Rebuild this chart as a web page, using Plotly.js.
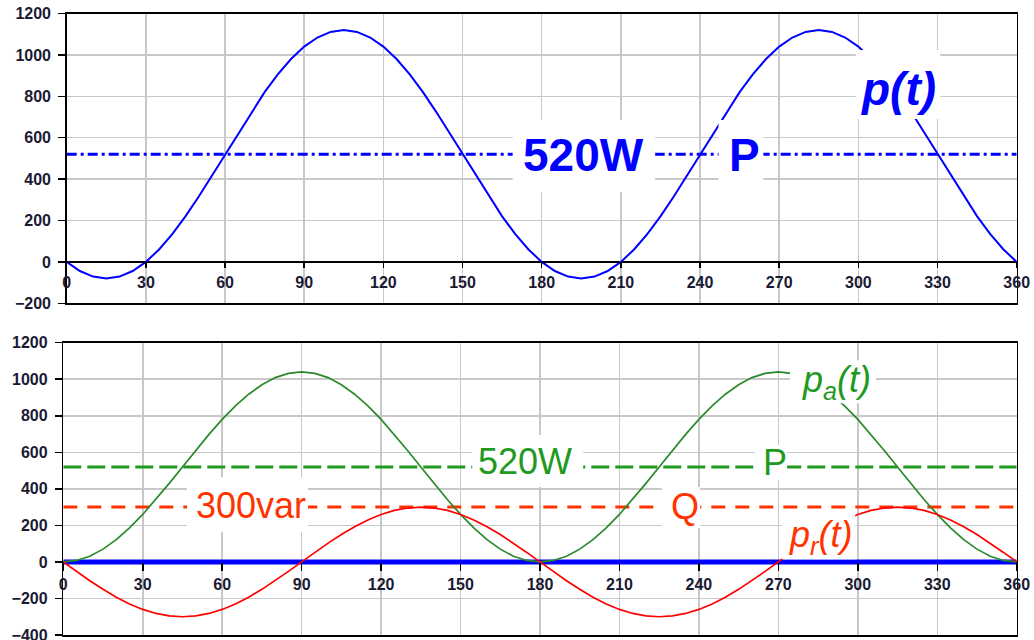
<!DOCTYPE html>
<html>
<head>
<meta charset="utf-8">
<script src="https://cdn.plot.ly/plotly-3.0.1.min.js"></script>
<style>html,body{margin:0;padding:0;background:#fff;}#chart{width:1034px;height:640px;}</style>
</head>
<body>
<div id="chart"></div>
<script>
// angle (degrees)
const angle = [0,5,10,15,20,25,30,35,40,45,50,55,60,65,70,75,80,85,90,95,100,105,110,115,120,125,130,135,140,145,150,155,160,165,170,175,180,
185,190,195,200,205,210,215,220,225,230,235,240,245,250,255,260,265,270,275,280,285,290,295,300,305,310,315,320,325,330,335,340,345,350,355,360];
// instantaneous power p(t)
const pt = [0,-44,-71,-80,-71,-44,0,60,134,220,315,416,520,624,725,820,906,980,1040,1084,1111,1120,1111,1084,1040,980,906,820,725,624,520,416,315,220,134,60,0,
-44,-71,-80,-71,-44,0,60,134,220,315,416,520,624,725,820,906,980,1040,1084,1111,1120,1111,1084,1040,980,906,820,725,624,520,416,315,220,134,60,0];
// active component pa(t)
const pa = [0,8,31,70,122,186,260,342,430,520,610,698,780,854,918,970,1009,1032,1040,1032,1009,970,918,854,780,698,610,520,430,342,260,186,122,70,31,8,0,
8,31,70,122,186,260,342,430,520,610,698,780,854,918,970,1009,1032,1040,1032,1009,970,918,854,780,698,610,520,430,342,260,186,122,70,31,8,0];
// reactive component pr(t)
const pr = [0,-52,-103,-150,-193,-230,-260,-282,-295,-300,-295,-282,-260,-230,-193,-150,-103,-52,0,52,103,150,193,230,260,282,295,300,295,282,260,230,193,150,103,52,0,
-52,-103,-150,-193,-230,-260,-282,-295,-300,-295,-282,-260,-230,-193,-150,-103,-52,0,52,103,150,193,230,260,282,295,300,295,282,260,230,193,150,103,52,0];
const P = 520;   // W
const Q = 300;   // var
const xTicks = [0,30,60,90,120,150,180,210,240,270,300,330,360];
const yTicksTop = [-200,0,200,400,600,800,1000,1200];
const yTicksBot = [-400,-200,0,200,400,600,800,1000,1200];
const xRange = [0,360];
const yRangeTop = [-200,1200];
const yRangeBot = [-400,1200];

const BLUE = '#0000ff', GREEN = '#2a8a2a', GREEN2 = '#1f9a1f', RED = '#ff0000', ORANGE = '#ff3300';
const FONT = 'Liberation Sans, Arial, sans-serif';
const tickFont = {family: FONT, size: 16, color: '#1a1a33', weight: 'bold'};

const dxTop = [66.7/1034, 1016.7/1034];
const dxBot = [63.3/1034, 1016.7/1034];
const dyTop = [1-303.3/640, 1-13.5/640];
const dyBot = [1-635/640, 1-342.7/640];
const zeroPos = (d, r) => d[0] + (0 - r[0]) / (r[1] - r[0]) * (d[1] - d[0]);

const xEnds = [xRange[0], xRange[1]];

const traces = [
  {x: xEnds, y: [P, P], xaxis: 'x', yaxis: 'y', mode: 'lines', line: {color: BLUE, width: 3, dash: '10px,4px,3px,4px'}},
  {x: angle, y: pt, xaxis: 'x', yaxis: 'y', mode: 'lines', line: {color: BLUE, width: 2}},
  {x: [null], y: [null], xaxis: 'x3', yaxis: 'y', mode: 'lines', hoverinfo: 'skip'},

  {x: xEnds, y: [0, 0], xaxis: 'x2', yaxis: 'y2', mode: 'lines', line: {color: BLUE, width: 5}},
  {x: xEnds, y: [P, P], xaxis: 'x2', yaxis: 'y2', mode: 'lines', line: {color: GREEN2, width: 3, dash: '18px,6px'}},
  {x: xEnds, y: [Q, Q], xaxis: 'x2', yaxis: 'y2', mode: 'lines', line: {color: ORANGE, width: 3, dash: '14px,10px'}},
  {x: angle, y: pa, xaxis: 'x2', yaxis: 'y2', mode: 'lines', line: {color: GREEN, width: 1.7}},
  {x: angle, y: pr, xaxis: 'x2', yaxis: 'y2', mode: 'lines', line: {color: RED, width: 1.7}},
  {x: [null], y: [null], xaxis: 'x4', yaxis: 'y2', mode: 'lines', hoverinfo: 'skip'}
];

const gridColor = '#c8c8c8';
function mainX(domain, anchor) {
  return {domain: domain, anchor: anchor, range: xRange, tickvals: xTicks, showticklabels: false, ticks: '',
    showgrid: true, gridcolor: gridColor, gridwidth: 1.5, zeroline: false,
    showline: true, linecolor: '#000', linewidth: 1.5, mirror: true, fixedrange: true};
}
function mainY(domain, anchor, range, ticks) {
  return {domain: domain, anchor: anchor, range: range, tickvals: ticks, ticks: 'outside', ticklen: 7, tickwidth: 1.5, tickcolor: '#000',
    ticklabelstandoff: 4, tickfont: tickFont, ticklabeloverflow: 'allow',
    showgrid: true, gridcolor: gridColor, gridwidth: 1.5, zeroline: true, zerolinecolor: '#000', zerolinewidth: 1.5,
    showline: true, linecolor: '#000', linewidth: 1.5, mirror: true, fixedrange: true};
}
function labelX(over, pos, showline, ticklen) {
  return {overlaying: over, anchor: 'free', position: pos, side: 'bottom', range: xRange, tickvals: xTicks,
    ticks: 'outside', ticklen: ticklen, tickwidth: 1.5, tickcolor: '#000', tickfont: tickFont, ticklabeloverflow: 'allow',
    showgrid: false, zeroline: false, showline: showline, linecolor: '#000', linewidth: 1.5, fixedrange: true};
}

function box(xr, yr, x0, x1, y0, y1) {
  return {type: 'rect', xref: xr, yref: yr, x0: x0, x1: x1, y0: y0, y1: y1, fillcolor: '#fff', line: {width: 0}, layer: 'above'};
}
const shapes = [
  box('x','y',169,223,338,685),
  box('x','y',247,264,347,685),
  box('x','y',299,331,690,1024),
  box('x2','y2',154.4,196.3,410,695),
  box('x2','y2',46.7,92.4,163,464),
  box('x2','y2',226,240.5,185,410),
  box('x2','y2',261.2,273.3,448,640),
  box('x2','y2',274.4,306.9,869,1104),
  box('x2','y2',271.4,299,15,284)
];

function label(xr, yr, x, y, text, color, size, weight, style) {
  return {xref: xr, yref: yr, x: x, y: y, text: text, showarrow: false, xanchor: 'center', yanchor: 'middle',
    font: {family: FONT, size: size, color: color, weight: weight, style: style}};
}
const annotations = [
  label('x','y',196,516,'520W',BLUE,46,'bold','normal'),
  label('x','y',256.7,516,'P',BLUE,46,'bold','normal'),
  label('x','y',315.2,835,'p(t)',BLUE,46,'bold','italic'),
  label('x2','y2',174.4,550,'520W',GREEN2,36,'normal','normal'),
  label('x2','y2',268.7,544,'P',GREEN2,36,'normal','normal'),
  label('x2','y2',70.9,309,'300var',ORANGE,36,'normal','normal'),
  label('x2','y2',234.6,306,'Q',ORANGE,36,'normal','normal'),
  label('x2','y2',291.8,985,'p<sub>a</sub>(t)',GREEN2,36,'normal','italic'),
  label('x2','y2',286.1,136,'p<sub>r</sub>(t)',ORANGE,36,'normal','italic')
];

const layout = {
  width: 1034, height: 640, margin: {l: 0, r: 0, t: 0, b: 0},
  paper_bgcolor: '#fff', plot_bgcolor: '#fff', showlegend: false,
  xaxis: mainX(dxTop, 'y'),
  yaxis: mainY(dyTop, 'x', yRangeTop, yTicksTop),
  xaxis2: mainX(dxBot, 'y2'),
  yaxis2: mainY(dyBot, 'x2', yRangeBot, yTicksBot),
  xaxis3: labelX('x', zeroPos(dyTop, yRangeTop), true, 5),
  xaxis4: labelX('x2', zeroPos(dyBot, yRangeBot), false, 8),
  shapes: shapes,
  annotations: annotations
};

Plotly.newPlot('chart', traces, layout, {staticPlot: true, displayModeBar: false});
</script>
</body>
</html>
